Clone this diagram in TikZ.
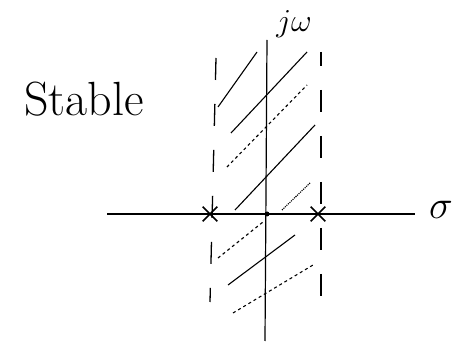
\documentclass[tikz,border=0pt]{standalone}
\usepackage{fix-cm}
\usetikzlibrary{shapes.misc}
\begin{document}
\begin{tikzpicture}[x=1pt,y=-1pt,
  axis/.style={line width=1.6pt,black},
  hatch/.style={line width=1.1pt,black},
  strip/.style={line width=1.3pt,black,dash pattern=on 22pt off 24pt},
  pole/.style={cross out,draw,line width=1.6pt,minimum size=13pt,inner sep=0pt},
  lbl/.style={inner sep=0pt}]
\useasboundingbox (0,0) rectangle (464,342);
% axes
\coordinate (xl) at (107,214);
\coordinate (xr) at (415,214);
\coordinate (yt) at (267,40);
\coordinate (yb) at (265,341);
\draw[axis] (xl) -- (xr);
\draw[line width=1.2pt] (yt) -- (yb);
\node[lbl,font=\fontsize{40}{40}\selectfont] (sig) at (441,210) {$\sigma$};
\node[lbl,font=\fontsize{32}{32}\selectfont] (jw) at (294,24) {$j\omega$};
\node[lbl,font=\fontsize{48}{48}\selectfont] (st) at (84,99) {Stable};
% strip boundaries
\coordinate (lt) at (216,58);
\coordinate (lb) at (210,302);
\coordinate (rt) at (321,52);
\coordinate (rb) at (321,306);
\draw[strip] (lt) -- (lb);
\draw[strip,dash phase=8pt] (rt) -- (rb);
% hatching
\draw[hatch] (218,107) -- (257,52);
\draw[hatch] (231,133) -- (307,52);
\draw[hatch,dashed] (227,167) -- (307,85);
\draw[hatch] (235,210) -- (315,125);
\draw[hatch,densely dotted] (282,210) -- (310,183);
\draw[hatch,dashed] (218,258) -- (263,222);
\draw[hatch] (228,285) -- (295,235);
\draw[hatch,dashed] (233,313) -- (313,265);
% poles
\node[pole] (p1) at (210,214) {};
\node[pole] (p2) at (318,214) {};
\fill (267,214) circle (2.5pt);
\end{tikzpicture}
\end{document}
